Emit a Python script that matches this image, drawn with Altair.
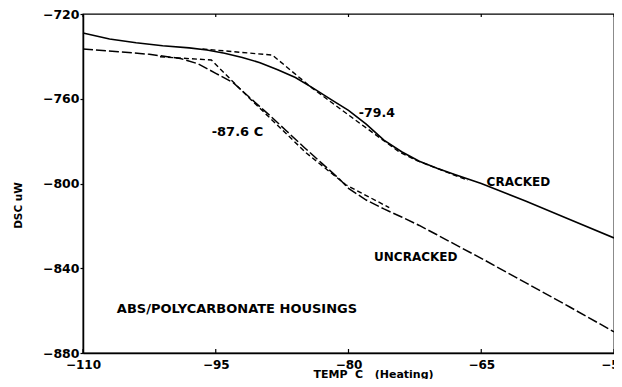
import altair as alt
import pandas as pd

# ---- data ----
cracked_temp = [-110, -107, -104, -101, -98, -96, -94, -92, -90, -88, -86, -84, -82, -80, -78, -76, -74, -72, -70, -68, -65, -62, -60, -55, -50]
cracked_dsc = [-729, -731.8, -733.6, -735, -736, -737, -738.5, -740.5, -743, -746.3, -750, -755, -760.3, -765.5, -772, -779.5, -785, -789.5, -792.8, -795.8, -800, -805, -808.3, -817, -825.7]

uncracked_temp = [-110, -106, -102.5, -99, -97, -95, -93, -91.2, -89, -87, -85, -83, -81, -80, -78, -76, -74, -72, -70, -67.5, -65, -60, -55, -50]
uncracked_dsc = [-736.5, -737.8, -739, -741, -743.5, -748, -752.5, -759.3, -767.5, -775.2, -783, -790.5, -798, -802.3, -807.8, -812, -815.8, -819.8, -824.2, -829.8, -835.3, -846.8, -858.3, -870]

crk_tan_temp = [-96.5, -88.6, -84.1, -79.4, -74.3, -72.4, -66.5]
crk_tan_dsc = [-736.5, -739.4, -755, -769.5, -785, -789, -798.5]

unc_tan_temp = [-101.3, -95.5, -91.5, -84.8, -80.3, -75.4]
unc_tan_dsc = [-740.2, -741.7, -758.5, -785.5, -800.6, -811.4]

label_text = ["-87.6 C", "-79.4", "CRACKED", "UNCRACKED", "ABS/POLYCARBONATE HOUSINGS"]
label_temp = [-92.55, -76.8, -60.8, -72.4, -92.6]
label_dsc = [-775.7, -766.7, -799.3, -834.7, -859.2]
label_size = [13, 12.5, 12, 12, 13]

x_ticks = [-110, -95, -80, -65, -50]
y_ticks = [-720, -760, -800, -840, -880]

FONT = "DejaVu Sans"

cracked = pd.DataFrame({"temp": cracked_temp, "dsc": cracked_dsc})
uncracked = pd.DataFrame({"temp": uncracked_temp, "dsc": uncracked_dsc})
crk_tan = pd.DataFrame({"temp": crk_tan_temp, "dsc": crk_tan_dsc})
unc_tan = pd.DataFrame({"temp": unc_tan_temp, "dsc": unc_tan_dsc})
labels = pd.DataFrame({"text": label_text, "temp": label_temp, "dsc": label_dsc, "size": label_size})
ticks = pd.DataFrame({"temp": x_ticks})

xscale = alt.Scale(domain=[-110, -50], nice=False, zero=False)
yscale = alt.Scale(domain=[-880, -720], nice=False, zero=False)

common = dict(
    grid=False, labelFont=FONT, labelFontWeight="bold", labelColor="black",
    titleFont=FONT, titleFontWeight="bold", titleColor="black",
    domainColor="black", tickColor="black", domainWidth=1.5, tickWidth=1.2,
)

xaxis = alt.Axis(
    values=x_ticks, title="TEMP\u00a0\u00a0C\u00a0\u00a0\u00a0(Heating)",
    labelFlush=False, tickSize=0, labelPadding=6, labelFontSize=12,
    titleFontSize=11, titleX=290, titleY=24, titleBaseline="alphabetic", titleAlign="center",
    **common,
)
yaxis = alt.Axis(
    values=y_ticks, title="DSC uW", tickSize=3, labelPadding=1, labelFontSize=12.5,
    titleFontSize=10.5, titleX=-65, titleY=191, titleAlign="center", titleBaseline="middle",
    **common,
)

X = alt.X("temp:Q", scale=xscale, axis=xaxis)
Y = alt.Y("dsc:Q", scale=yscale, axis=yaxis)

l_cracked = alt.Chart(cracked).mark_line(color="black", strokeWidth=1.6).encode(x=X, y=Y)
l_uncracked = alt.Chart(uncracked).mark_line(color="black", strokeWidth=1.5, strokeDash=[10, 3]).encode(x=X, y=Y)
l_ctan = alt.Chart(crk_tan).mark_line(color="black", strokeWidth=1.4, strokeDash=[5, 3]).encode(x=X, y=Y)
l_utan = alt.Chart(unc_tan).mark_line(color="black", strokeWidth=1.4, strokeDash=[5, 3]).encode(x=X, y=Y)
t_labels = alt.Chart(labels).mark_text(
    font=FONT, fontWeight="bold", color="black", align="center", baseline="middle"
).encode(x=X, y=Y, text="text:N", size=alt.Size("size:Q", scale=None, legend=None))

# inward tick marks on the bottom and top frame edges
bottom_ticks = alt.Chart(ticks).mark_rule(color="black", strokeWidth=1.2).encode(
    x=X, y=alt.value(339), y2=alt.value(335)
)
top_ticks = alt.Chart(ticks).mark_rule(color="black", strokeWidth=1.2).encode(
    x=X, y=alt.value(0), y2=alt.value(3)
)

chart = alt.layer(
    l_cracked, l_uncracked, l_ctan, l_utan, t_labels, bottom_ticks, top_ticks
).properties(
    width=531, height=339,
    background="white",
    autosize=alt.AutoSizeParams(type="none"),
    padding={"left": 75, "top": 6, "right": 0, "bottom": 26},
).configure_view(
    stroke="black", strokeWidth=1.3
)

chart.save("out.html", embed_options={"renderer": "svg", "actions": False})
